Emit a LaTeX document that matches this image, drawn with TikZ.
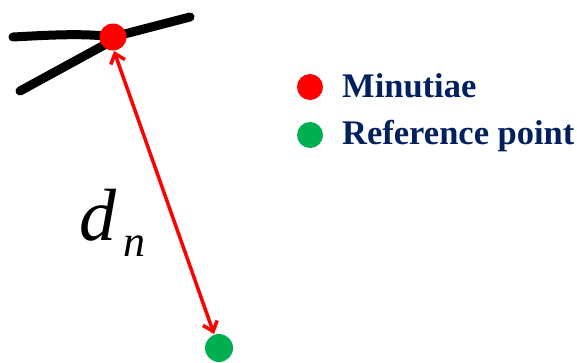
\documentclass[tikz,border=0pt]{standalone}
\usepackage{fontspec}
\setmainfont{Liberation Serif}
\usetikzlibrary{arrows.meta}
\definecolor{ppred}{RGB}{255,0,0}
\definecolor{ppgreen}{RGB}{0,176,80}
\definecolor{navy}{RGB}{0,32,96}
\tikzset{
  ridge/.style={line width=9pt, line cap=round, black},
  reddot/.style={circle, fill=ppred, minimum size=27pt, inner sep=0pt},
  greendot/.style={circle, fill=ppgreen, minimum size=28pt, inner sep=0pt},
  legdot/.style={circle, minimum size=26pt, inner sep=0pt},
  legtext/.style={anchor=base west, inner sep=0pt, text=navy, font=\fontsize{34.5}{34.5}\selectfont\bfseries},
  distarrow/.style={ppred, line width=3.5pt, {Straight Barb[length=9pt,width=15pt,line width=3.5pt]}-{Straight Barb[length=9pt,width=15pt,line width=3.5pt]}}
}
\begin{document}
\begin{tikzpicture}[x=1pt,y=-1pt]
\useasboundingbox (0,0) rectangle (577,362);
% ridges
\draw[ridge] (13,37) .. controls (50,35) and (85,33) .. (113,37) -- (190,17);
\draw[ridge] (20,91) -- (108,43);
% points
\node[reddot] (m) at (113,37) {};
\node[greendot] (r) at (219,348) {};
% distance arrow
\coordinate (a1) at (114,51);
\coordinate (a2) at (214,334);
\draw[distarrow] (a1) -- (a2);
% label
\node[inner sep=0pt, anchor=base west, font=\fontsize{74}{74}\selectfont\itshape] (d) at (79,240) {d};
\node[inner sep=0pt, anchor=base west, font=\fontsize{44}{44}\selectfont\itshape] (n) at (123,256) {n};
% legend
\node[legdot, fill=ppred] (l1) at (310,87) {};
\node[legtext] (t1) at (342,97) {Minutiae};
\node[legdot, fill=ppgreen] (l2) at (310,135) {};
\node[legtext] (t2) at (342,144) {Reference point};
\end{tikzpicture}
\end{document}
